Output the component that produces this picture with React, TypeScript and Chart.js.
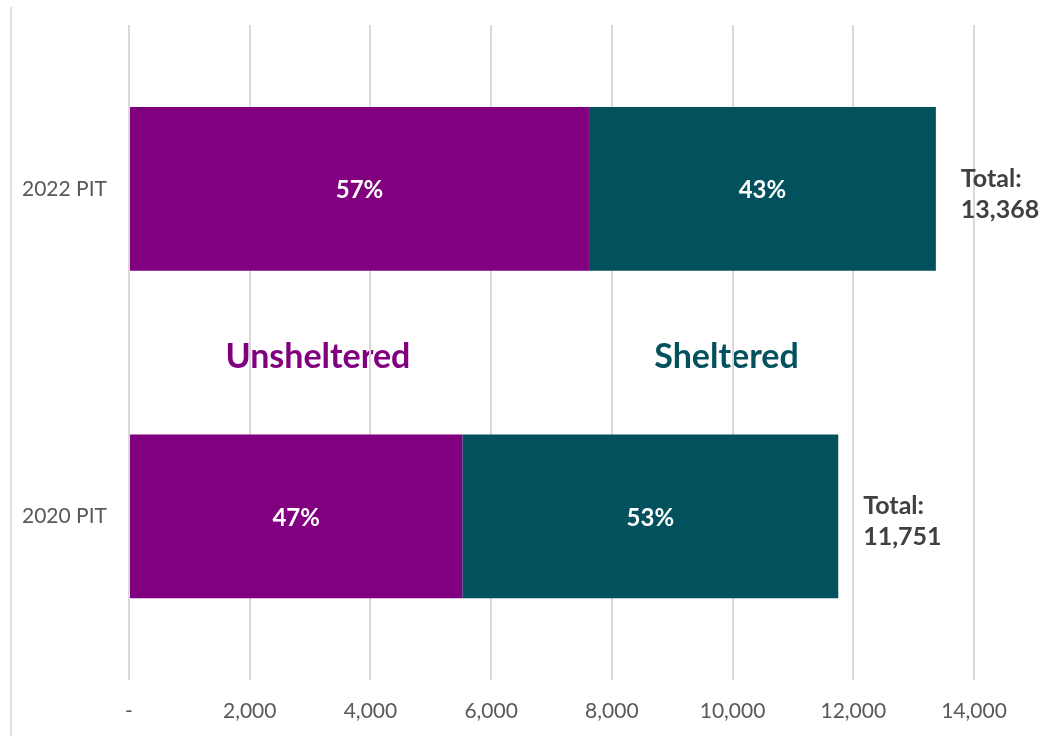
import React, { useEffect, useRef } from "react";
import { Chart, registerables } from "chart.js";

Chart.register(...registerables);

const categories = ["2022 PIT", "2020 PIT"];
const unsheltered = [7620, 5523];
const sheltered = [5748, 6228];
const totals = [13368, 11751];
const xTicks = [0, 2000, 4000, 6000, 8000, 10000, 12000, 14000];
const seriesNames = ["Unsheltered", "Sheltered"];
const seriesLabelX = [3130, 9900];

const PURPLE = "#800080";
const TEAL = "#02515C";
const FONT = "Lato, 'Noto Sans', sans-serif";

const fmt = (v: number) => v.toLocaleString("en-US");

export default function App() {
  const ref = useRef<HTMLCanvasElement>(null);

  useEffect(() => {
    if (!ref.current) return;

    const leftBorder = {
      id: "leftBorder",
      beforeDraw(chart: any) {
        const ctx = chart.ctx;
        ctx.save();
        ctx.strokeStyle = "#d9d9d9";
        ctx.lineWidth = 1.5;
        ctx.beginPath();
        ctx.moveTo(11, 7);
        ctx.lineTo(11, chart.height);
        ctx.stroke();
        // series names between the bars (under gridlines)
        const xs = chart.scales.x;
        const ys = chart.scales.y;
        const yMid = (ys.getPixelForValue(0) + ys.getPixelForValue(1)) / 2;
        ctx.font = `bold 34px ${FONT}`;
        ctx.textAlign = "center";
        ctx.textBaseline = "middle";
        seriesNames.forEach((n, i) => {
          ctx.fillStyle = i === 0 ? PURPLE : TEAL;
          ctx.fillText(n, xs.getPixelForValue(seriesLabelX[i]), yMid + 5);
        });
        ctx.restore();
      },
    };

    const labels = {
      id: "labels",
      afterDatasetsDraw(chart: any) {
        const ctx = chart.ctx;
        const xs = chart.scales.x;
        ctx.save();
        ctx.textBaseline = "middle";
        chart.data.datasets.forEach((ds: any, di: number) => {
          const meta = chart.getDatasetMeta(di);
          meta.data.forEach((bar: any, i: number) => {
            const pct = Math.round((ds.data[i] / totals[i]) * 100) + "%";
            const cx = (bar.x + bar.base) / 2;
            ctx.font = `bold 24px ${FONT}`;
            ctx.fillStyle = "#ffffff";
            ctx.textAlign = "center";
            ctx.fillText(pct, cx, bar.y + 2);
          });
        });
        const meta0 = chart.getDatasetMeta(0);
        meta0.data.forEach((bar: any, i: number) => {
          const x = xs.getPixelForValue(totals[i]) + 25;
          ctx.font = `bold 25px ${FONT}`;
          ctx.fillStyle = "#404040";
          ctx.textAlign = "left";
          ctx.fillText("Total:", x, bar.y - 10);
          ctx.fillText(fmt(totals[i]), x, bar.y + 21);
        });
        ctx.restore();
      },
    };

    const chart = new Chart(ref.current, {
      type: "bar",
      data: {
        labels: categories,
        datasets: [
          {
            label: seriesNames[0],
            data: unsheltered,
            backgroundColor: PURPLE,
            categoryPercentage: 1,
            barPercentage: 0.5,
          },
          {
            label: seriesNames[1],
            data: sheltered,
            backgroundColor: TEAL,
            categoryPercentage: 1,
            barPercentage: 0.5,
          },
        ],
      },
      options: {
        indexAxis: "y",
        animation: false,
        responsive: false,
        maintainAspectRatio: false,
        layout: { padding: { top: 25, right: 68, left: 0, bottom: 0 } },
        plugins: {
          legend: { display: false },
          tooltip: { enabled: false },
        },
        scales: {
          x: {
            stacked: true,
            min: 0,
            max: 14000,
            afterBuildTicks: (scale: any) => {
              scale.ticks = xTicks.map((v) => ({ value: v }));
            },
            afterFit: (scale: any) => {
              scale.height = 56;
              scale.paddingLeft = 0;
              scale.paddingRight = 0;
            },
            grid: { color: "#d9d9d9", lineWidth: 2, drawTicks: false },
            border: { display: false },
            ticks: {
              padding: 19,
              color: "#595959",
              font: { family: FONT, size: 21 },
              callback: (v: any) => (Number(v) === 0 ? "-" : fmt(Number(v))),
            },
          },
          y: {
            stacked: true,
            afterFit: (scale: any) => {
              scale.width = 129;
              scale.paddingTop = 0;
              scale.paddingBottom = 0;
            },
            grid: { display: false, drawTicks: false },
            border: { display: false },
            ticks: {
              padding: 22,
              color: "#595959",
              font: { family: FONT, size: 21 },
            },
          },
        },
      },
      plugins: [leftBorder, labels],
    });

    return () => chart.destroy();
  }, []);

  return (
    <div style={{ position: "absolute", left: 0, top: 0, width: 1042, height: 736, background: "#ffffff" }}>
      <canvas ref={ref} width={1042} height={736} style={{ width: 1042, height: 736, display: "block" }} />
    </div>
  );
}
